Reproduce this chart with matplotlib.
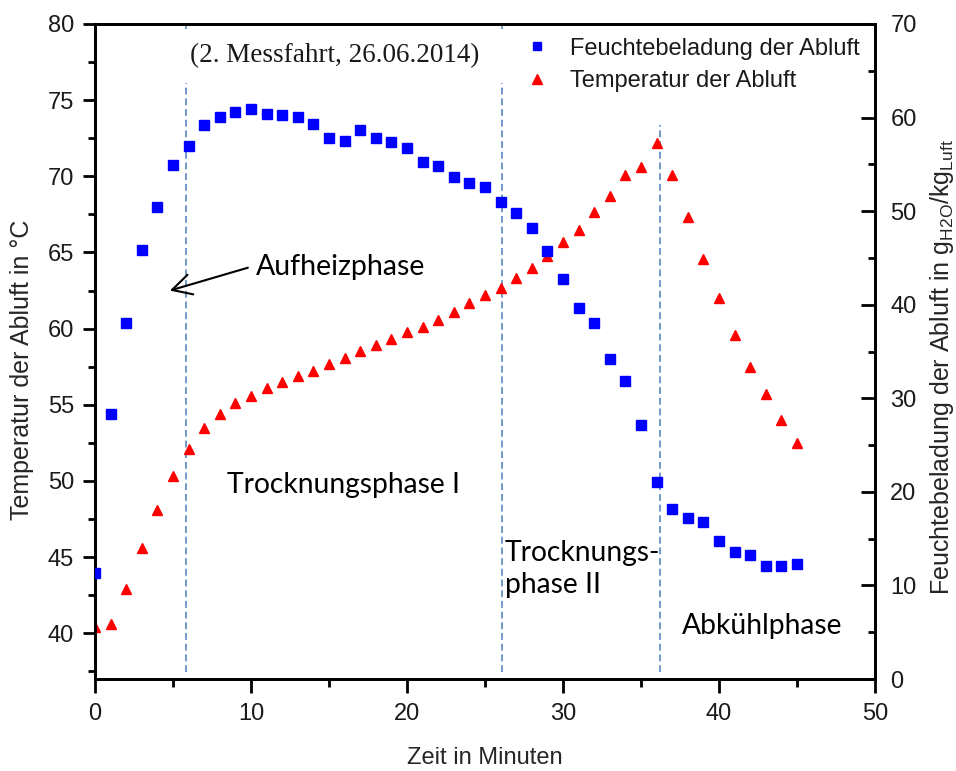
import matplotlib
matplotlib.use('Agg')
import matplotlib.pyplot as plt
from matplotlib.patches import Rectangle
from matplotlib.ticker import MultipleLocator

# measured exhaust air values, one reading per minute
minutes = list(range(46))
temp_abluft = [40.4, 40.6, 42.9, 45.6, 48.1, 50.3, 52.1, 53.5, 54.4, 55.1,
               55.6, 56.1, 56.5, 56.9, 57.2, 57.7, 58.1, 58.5, 58.9, 59.3,
               59.8, 60.1, 60.55, 61.1, 61.7, 62.2, 62.65, 63.3, 64.0, 64.8,
               65.7, 66.5, 67.65, 68.7, 70.1, 70.6, 72.2, 70.1, 67.3, 64.6,
               62.0, 59.6, 57.5, 55.7, 54.0, 52.5]
feuchte_abluft = [11.35, 28.3, 38.0, 45.9, 50.4, 54.9, 57.0, 59.2, 60.1, 60.6,
                  60.9, 60.4, 60.3, 60.1, 59.3, 57.8, 57.5, 58.7, 57.8, 57.4,
                  56.8, 55.2, 54.8, 53.6, 53.0, 52.6, 51.0, 49.8, 48.2, 45.7,
                  42.8, 39.6, 38.0, 34.2, 31.9, 27.1, 21.1, 18.2, 17.2, 16.8,
                  14.7, 13.6, 13.3, 12.1, 12.1, 12.3]

# phase boundaries in minutes
phase_bounds = [5.83, 26.1, 36.2]
phase_top = [1.0, 1.0, 0.846]

W, H = 956, 771
fig = plt.figure(figsize=(W / 100, H / 100), dpi=100)
ax = fig.add_axes([95 / W, 92 / H, 780 / W, 655 / H])
ax2 = ax.twinx()

TXT = '#1a1a1a'
SANS = 'Liberation Sans'
PHASE_FONT = 'Lato'

for xb, top in zip(phase_bounds, phase_top):
    ax.axvline(xb, ymin=0.011, ymax=top, color='#4a7ebb', lw=1.1,
               dashes=(4.5, 2.5), zorder=1)

# white area behind heading and legend
ax.add_patch(Rectangle((0.108, 0.91), 0.88, 0.082, transform=ax.transAxes,
                       facecolor='white', edgecolor='none', zorder=1.5))

ax.plot(minutes, temp_abluft, ls='none', marker='^', ms=7.5, color='#ff0000',
        mec='#ff0000', zorder=3)
ax2.plot(minutes, feuchte_abluft, ls='none', marker='s', ms=6.5, color='#0000ff',
         mec='#0000ff', zorder=3)

ax.set_xlim(0, 50)
ax.set_ylim(37, 80)
ax2.set_ylim(0, 70)

ax.xaxis.set_major_locator(MultipleLocator(10))
ax.xaxis.set_minor_locator(MultipleLocator(5))
ax.yaxis.set_major_locator(MultipleLocator(5))
ax.yaxis.set_minor_locator(MultipleLocator(2.5))
ax2.yaxis.set_major_locator(MultipleLocator(10))
ax2.yaxis.set_minor_locator(MultipleLocator(5))

ax.tick_params(axis='both', which='major', direction='out', length=9, width=2,
               labelsize=17, labelcolor=TXT, pad=6)
ax.tick_params(axis='both', which='minor', direction='out', length=5, width=2)
ax.tick_params(axis='x', which='major', length=10, pad=7)
ax.tick_params(axis='x', which='minor', length=6)
ax.tick_params(top=False, right=False, which='both')
ax2.tick_params(axis='y', which='major', direction='in', length=10, width=2,
                labelsize=17, labelcolor=TXT, pad=11)
ax2.tick_params(axis='y', which='minor', direction='in', length=5, width=2)

for a in (ax, ax2):
    for s in a.spines.values():
        s.set_linewidth(2)
    for lab in a.get_xticklabels() + a.get_yticklabels():
        lab.set_fontfamily(SANS)

ax.set_xlabel('Zeit in Minuten', fontsize=17, family=SANS, color='#262626', va='center')
ax.xaxis.set_label_coords(0.5, -0.121)
ax.set_ylabel('Temperatur der Abluft in °C', fontsize=18, family=SANS,
              color='#262626', va='center')
ax.yaxis.set_label_coords(-0.0936, 0.472)
ax2.set_ylabel(r'Feuchtebeladung der Abluft in g$_{\mathregular{H2O}}$/kg$_{\mathregular{Luft}}$',
               fontsize=18, family=SANS, color='#262626', va='center')
ax2.yaxis.set_label_coords(1.086, 0.476)

ax.text(0.3077, 0.9515, '(2. Messfahrt, 26.06.2014)', transform=ax.transAxes,
        ha='center', va='center', fontsize=19.5, family='Liberation Serif',
        color=TXT, zorder=4)

h1, = ax2.plot([], [], ls='none', marker='s', ms=6, color='#0000ff')
h2, = ax2.plot([], [], ls='none', marker='^', ms=7, color='#ff0000')
leg = ax2.legend([h1, h2], ['Feuchtebeladung der Abluft', 'Temperatur der Abluft'],
                 loc='upper left', bbox_to_anchor=(0.551, 0.979), frameon=False,
                 borderpad=0, borderaxespad=0, handlelength=1.0,
                 handletextpad=0.9, labelspacing=0.45,
                 prop={'family': SANS, 'size': 17})
for t in leg.get_texts():
    t.set_color(TXT)

# phase annotations
ax.annotate('', xy=(4.8, 62.5), xytext=(9.8, 64.0),
            arrowprops=dict(arrowstyle='->,head_length=0.6,head_width=0.32',
                            lw=1.5, color='black', mutation_scale=23,
                            shrinkA=0, shrinkB=0))
ax.text(10.32, 64.03, 'Aufheizphase', ha='left', va='center', fontsize=20.5,
        family=PHASE_FONT, color='black')
ax.text(8.46, 49.71, 'Trocknungsphase I', ha='left', va='center', fontsize=20.3,
        family=PHASE_FONT, color='black')
ax.text(26.28, 44.22, 'Trocknungs-\nphase II', ha='left', va='center', fontsize=20.3,
        family=PHASE_FONT, color='black', linespacing=1.3)
ax.text(37.63, 40.45, 'Abkühlphase', ha='left', va='center', fontsize=20.3,
        family=PHASE_FONT, color='black')

fig.savefig('out.png', dpi=100)
